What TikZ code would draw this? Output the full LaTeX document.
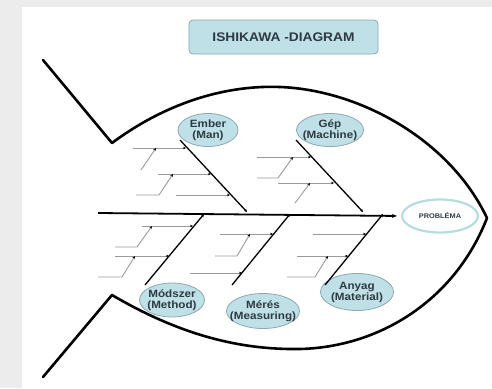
\documentclass[tikz,border=0pt]{standalone}
\usepackage{fontspec}
\setmainfont{Liberation Sans}
\newfontfamily\lblfont[FakeStretch=1.1]{Liberation Sans}
\usetikzlibrary{arrows.meta,shapes.geometric}
\definecolor{paper}{HTML}{ECECEC}
\definecolor{bubble}{HTML}{BFE0E6}
\definecolor{bubbleline}{HTML}{8AA9B1}
\definecolor{probline}{HTML}{B5DCE3}
\definecolor{txt}{HTML}{2E3A42}
\definecolor{subline}{HTML}{9A9A9A}
\begin{document}
\begin{tikzpicture}[x=1pt,y=-1pt,
  body/.style={line width=2.6pt, line join=round, line cap=round},
  spine/.style={line width=1.8pt, -{Stealth[length=5pt,width=4pt]}},
  bone/.style={line width=1.3pt, -{Stealth[length=3pt,width=3pt]}},
  sub/.style={line width=0.9pt, draw=subline, -{Stealth[length=3pt,width=2.6pt,color=black]}},
  cause/.style={ellipse, draw=bubbleline, line width=0.8pt, fill=bubble, inner sep=0pt},
  causetext/.style={align=center, text=txt, inner sep=0pt, font=\lblfont\bfseries\fontsize{10.6}{11}\selectfont},
]
\useasboundingbox (0,0) rectangle (492,388);
\fill[paper] (0,0) rectangle (492,388);
\fill[white] (22,7) rectangle (492,388);

% title
\node[draw=bubbleline, line width=0.8pt, fill=bubble, rounded corners=4pt,
      minimum width=189pt, minimum height=34pt, inner sep=0pt,
      text=txt, font=\lblfont\bfseries\fontsize{12.5}{14}\selectfont] (title) at (283.5,37) {ISHIKAWA -DIAGRAM};

% fish outline
\draw[body] (43,60) -- (112,143)
  .. controls (170,100) and (230,85) .. (280,87)
  .. controls (360,90) and (450,140) .. (487,218)
  .. controls (455,300) and (380,347) .. (300,349)
  .. controls (240,350) and (180,335) .. (112,295) -- (43,377);

% problem
\node[ellipse, draw=probline, line width=2.2pt, fill=white, minimum width=76pt, minimum height=33pt, inner sep=0pt] (prob) at (440,216) {};
\node[causetext, font=\lblfont\bfseries\fontsize{6.7}{8}\selectfont] at (prob) {PROBLÉMA};

% spine
\coordinate (tailS) at (98,213);
\draw[spine, shorten >=4pt] (tailS) -- (prob.west);

% cause bubbles
\node[cause, minimum width=60pt, minimum height=33pt] (man) at (208,130) {};
\node[causetext] at (man) {Ember\\(Man)};
\node[cause, minimum width=67pt, minimum height=33pt] (machine) at (330,130) {};
\node[causetext] at (machine) {Gép\\(Machine)};
\node[cause, minimum width=65pt, minimum height=34pt] (method) at (172,300) {};
\node[causetext] at (method) {Módszer\\(Method)};
\node[cause, minimum width=73pt, minimum height=35pt] (measuring) at (263,311) {};
\node[causetext] at (measuring) {Mérés\\(Measuring)};
\node[cause, minimum width=73pt, minimum height=37pt] (material) at (357,292) {};
\node[causetext] at (material) {Anyag\\(Material)};

% main bones
\coordinate (e0) at (180,140); \coordinate (e1) at (247,212);
\coordinate (g0) at (296,140); \coordinate (g1) at (363,212);
\coordinate (m0) at (145,285); \coordinate (m1) at (204,214);
\coordinate (r0) at (232,285); \coordinate (r1) at (290,214);
\coordinate (a0) at (325,285); \coordinate (a1) at (383,214);
\draw[bone] (e0) -- (e1);
\draw[bone] (g0) -- (g1);
\draw[bone] (m0) -- (m1);
\draw[bone] (r0) -- (r1);
\draw[bone] (a0) -- (a1);

% Ember sub-bones
\draw[sub] (133,148) -- (186,148);
\draw[sub] (141,170) -- (156,148);
\draw[sub] (158,174) -- (211,174);
\draw[sub] (136,195) -- (159,195) -- (173,174);
\draw[sub] (176,195) -- (230,195);

% Gep sub-bones
\draw[sub] (257,157) -- (311,157);
\draw[sub] (257,178) -- (278,178) -- (293,157);
\draw[sub] (278,183) -- (334,183);
\draw[sub] (295,203) -- (310,183);

% Modszer sub-bones
\draw[sub] (142,226) -- (193,226);
\draw[sub] (115,247) -- (137,247) -- (152,226);
\draw[sub] (115,256) -- (169,256);
\draw[sub] (98,277) -- (122,277) -- (135,256);

% Meres sub-bones
\draw[sub] (220,234) -- (273,234);
\draw[sub] (215,256) -- (237,256) -- (250,234);
\draw[sub] (190,273) -- (242,273);

% Anyag sub-bones
\draw[sub] (313,234) -- (366,234);
\draw[sub] (297,256) -- (348,256);
\draw[sub] (287,277) -- (315,277) -- (328,256);
\end{tikzpicture}
\end{document}
